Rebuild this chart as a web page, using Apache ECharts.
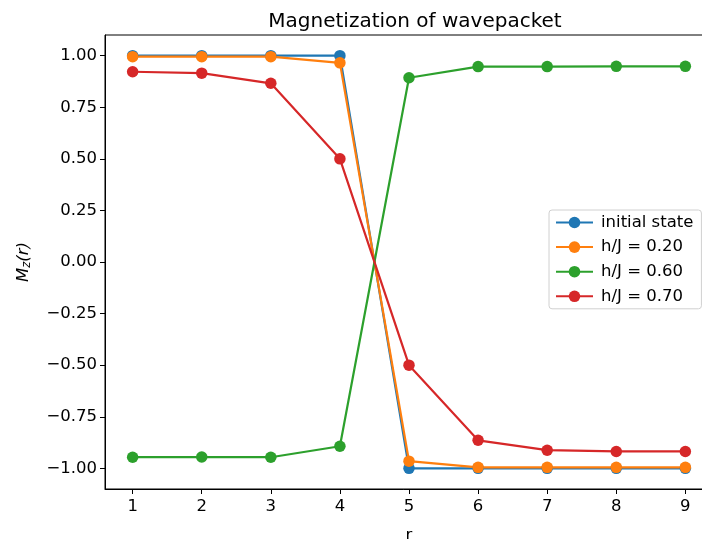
<!DOCTYPE html>
<html>
<head>
<meta charset="utf-8">
<script src="https://cdn.jsdelivr.net/npm/echarts@6/dist/echarts.min.js"></script>
<style>
  html, body { margin: 0; padding: 0; background: #fff; }
  #main { width: 702px; height: 539px; }
</style>
</head>
<body>
<div id="main"></div>
<script>
// site index r
const sites = [1, 2, 3, 4, 5, 6, 7, 8, 9]
const xTicks = [1, 2, 3, 4, 5, 6, 7, 8, 9]
const yTicks = [-1.0, -0.75, -0.5, -0.25, 0, 0.25, 0.5, 0.75, 1.0]

const seriesNames = ['initial state', 'h/J = 0.20', 'h/J = 0.60', 'h/J = 0.70']
const initialState = [1, 1, 1, 1, -1, -1, -1, -1, -1]
const hJ020 = [0.995, 0.995, 0.995, 0.965, -0.965, -0.995, -0.995, -0.995, -0.995]
const hJ060 = [-0.946, -0.945, -0.946, -0.893, 0.893, 0.947, 0.947, 0.948, 0.948]
const hJ070 = [0.922, 0.915, 0.866, 0.50, -0.50, -0.864, -0.912, -0.918, -0.918]

const colors = ['#1f77b4', '#ff7f0e', '#2ca02c', '#d62728']
const allValues = [initialState, hJ020, hJ060, hJ070]

let chart = echarts.init(document.getElementById('main'))

let series = allValues.map((vals, i) => ({
    name: seriesNames[i],
    type: 'line',
    data: sites.map((r, k) => [r, vals[k]]),
    symbol: 'circle',
    symbolSize: 11.5,
    itemStyle: {color: colors[i]},
    lineStyle: {color: colors[i], width: 2.2},
    emphasis: {disabled: true},
    animation: false
}))

let font = 'DejaVu Sans'
let tickSize = 16.5

let option = {
    animation: false,
    textStyle: {fontFamily: font},
    title: {
        text: 'Magnetization of wavepacket',
        left: 410,
        textAlign: 'center',
        top: 7,
        textStyle: {fontFamily: font, fontSize: 20, fontWeight: 'normal', color: '#000'}
    },
    grid: {
        left: 105,
        top: 35,
        width: 608,
        height: 454,
        outerBoundsMode: 'none',
        show: true,
        borderColor: '#000',
        borderWidth: 1,
        backgroundColor: 'transparent'
    },
    legend: {
        left: 549,
        top: 210,
        orient: 'vertical',
        itemGap: 7.6,
        itemWidth: 37,
        itemHeight: 14.5,
        padding: [4, 8, 4, 6],
        borderColor: '#d0d0d0',
        borderWidth: 1,
        borderRadius: 3,
        backgroundColor: 'rgba(255,255,255,0.8)',
        textStyle: {fontFamily: font, fontSize: tickSize, lineHeight: 17, color: '#000', padding: [0, 0, 0, 3]},
        data: seriesNames
    },
    xAxis: {
        type: 'value',
        min: 0.6,
        max: 9.4,
        name: '{n|r}',
        nameLocation: 'middle',
        nameGap: 38,
        nameTextStyle: {
            rich: {n: {fontFamily: font, fontSize: tickSize, color: '#000'}}
        },
        splitLine: {show: false},
        axisLine: {show: true, onZero: false, lineStyle: {color: '#000', width: 1}},
        axisTick: {show: true, customValues: xTicks, length: 5, lineStyle: {color: '#000'}},
        axisLabel: {
            customValues: xTicks,
            fontFamily: font, fontSize: tickSize, color: '#000', margin: 9
        }
    },
    yAxis: {
        type: 'value',
        min: -1.1,
        max: 1.1,
        name: '{i|M}{s|z}{i|(r)}',
        nameLocation: 'middle',
        nameGap: 72,
        nameRotate: 90,
        nameTextStyle: {
            rich: {
                i: {fontFamily: font, fontSize: tickSize, fontStyle: 'italic', color: '#000'},
                s: {fontFamily: font, fontSize: 11.5, fontStyle: 'italic', color: '#000', verticalAlign: 'bottom', padding: [7, 0, 0, 0]}
            }
        },
        splitLine: {show: false},
        axisLine: {show: true, onZero: false, lineStyle: {color: '#000', width: 1}},
        axisTick: {show: true, customValues: yTicks, length: 5, lineStyle: {color: '#000'}},
        axisLabel: {
            customValues: yTicks,
            fontFamily: font, fontSize: tickSize, color: '#000', margin: 8,
            formatter: v => {
                let s = Math.abs(v).toFixed(2)
                return (v < -1e-9 ? '\u2212' : '') + s
            }
        }
    },
    series: series
}

chart.setOption(option)
</script>
</body>
</html>
